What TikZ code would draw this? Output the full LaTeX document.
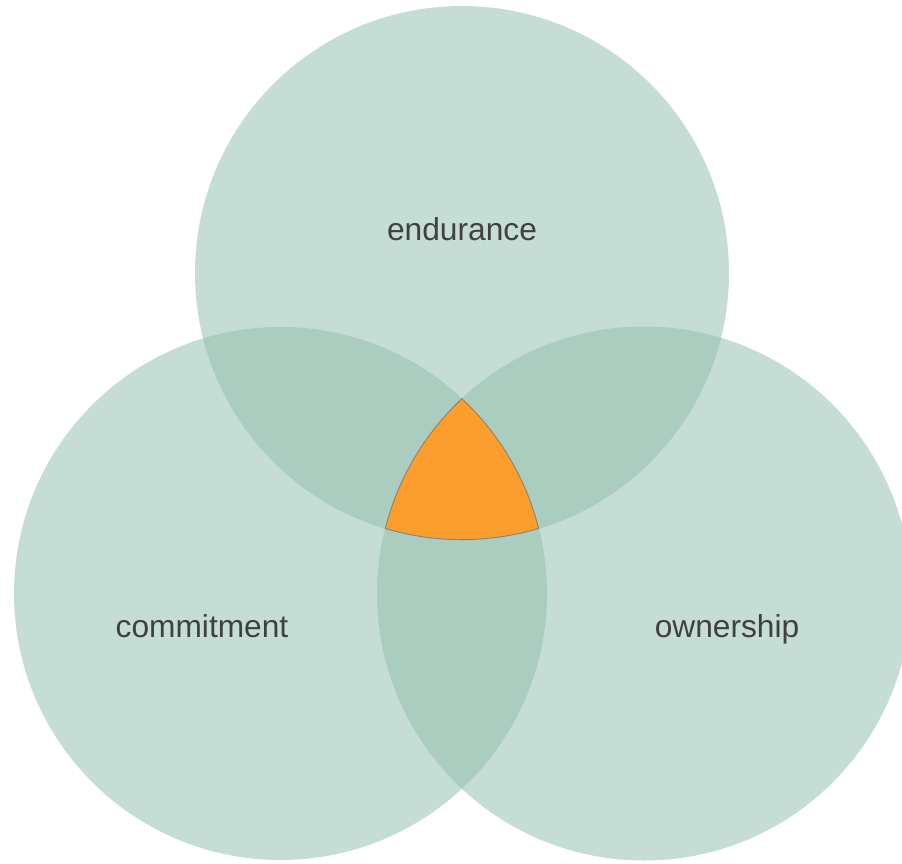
\documentclass[tikz,border=0pt]{standalone}
\usepackage{fontspec}
\setmainfont{Liberation Sans}
\definecolor{venn}{RGB}{146,191,174}
\definecolor{core}{RGB}{252,158,46}
\definecolor{txt}{RGB}{64,64,64}
\begin{document}
\begin{tikzpicture}[x=1pt,y=-1pt,
  venncircle/.style={fill=venn,fill opacity=0.534,draw=none},
  lbl/.style={text=txt,font=\fontsize{31.7}{38}\selectfont,inner sep=0pt}]
\useasboundingbox (0,0) rectangle (902,863);
\clip (0,0) rectangle (902,863);
\coordinate (T) at (462,273);
\coordinate (L) at (280.5,593.5);
\coordinate (R) at (644,593.5);
\path[venncircle] (T) circle[radius=267];
\path[venncircle] (L) circle[radius=266.5];
\path[venncircle] (R) circle[radius=267];
\begin{scope}
  \clip (T) circle[radius=267];
  \clip (L) circle[radius=266.5];
  \clip (R) circle[radius=267];
  \fill[core] (R) circle[radius=267];
  \draw[gray,line width=1.6pt] (T) circle[radius=267];
  \draw[gray,line width=1.6pt] (L) circle[radius=266.5];
  \draw[gray,line width=1.6pt] (R) circle[radius=267];
\end{scope}
\node[lbl] (endurance) at (462,229) {endurance};
\node[lbl] (commitment) at (202,626) {commitment};
\node[lbl] (ownership) at (727,629) {ownership};
\end{tikzpicture}
\end{document}
